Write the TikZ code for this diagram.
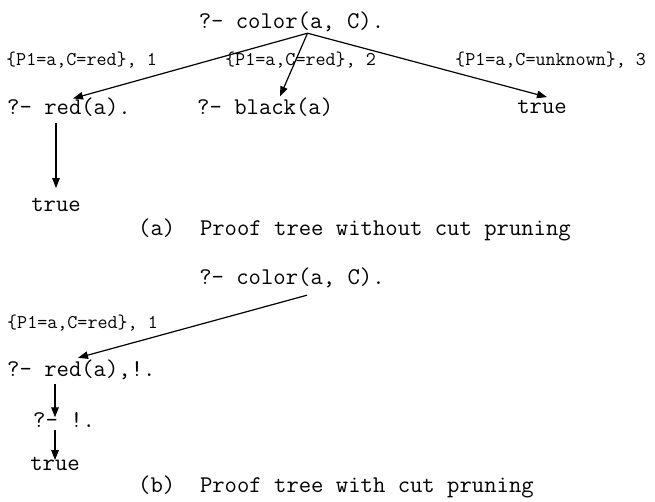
\documentclass[tikz,border=0pt]{standalone}
\usetikzlibrary{arrows.meta}

\begin{document}
\begin{tikzpicture}[
  x=1pt, y=-1pt,
  goal/.style={font=\ttfamily\fontsize{24}{28}\selectfont, inner sep=0pt},
  subst/.style={font=\ttfamily\fontsize{19.5}{22}\selectfont, inner sep=0pt, anchor=west},
  caption/.style={font=\ttfamily\fontsize{24}{28}\selectfont, inner sep=0pt, anchor=west},
  arrow/.style={-{Triangle[length=10pt,width=7.5pt]}, line width=1.2pt}
]
\useasboundingbox (0,0) rectangle (655,501);

% (a) without cut
\node[goal] (rootA) at (291.5,22) {?- color(a, C).};
\node[subst] (substA1) at (6,60) {\{P1=a,C=red\}, 1};
\node[subst] (substA2) at (225,60) {\{P1=a,C=red\}, 2};
\node[subst] (substA3) at (455,60) {\{P1=a,C=unknown\}, 3};
\node[goal, anchor=west] (redA) at (7,107) {?- red(a).};
\node[goal, anchor=west] (blackA) at (197,107) {?- black(a)};
\node[goal] (trueA) at (542,107) {true};
\node[goal] (trueA2) at (56,205) {true};
\node[caption] (capA) at (138,230) {(a)~~Proof tree without cut pruning};

\draw[arrow] ([xshift=16pt,yshift=-1pt]rootA.south) -- ([xshift=66pt,yshift=-1pt]redA.north west);
\draw[arrow] ([xshift=16pt,yshift=-1pt]rootA.south) -- ([xshift=83pt,yshift=1pt]blackA.north west);
\draw[arrow] ([xshift=16pt,yshift=-1pt]rootA.south) -- ([xshift=5pt,yshift=3pt]trueA.north);
\draw[arrow, shorten <=6pt, shorten >=10pt] (trueA2.north |- redA.south) -- (trueA2.north);

% (b) with cut
\node[goal] (rootB) at (292,278) {?- color(a, C).};
\node[subst] (substB1) at (7,323) {\{P1=a,C=red\}, 1};
\node[goal, anchor=west] (redB) at (7,370) {?- red(a),!.};
\node[goal, anchor=west] (cutB) at (33,420) {?- !.};
\node[goal] (trueB) at (55,464) {true};
\node[caption] (capB) at (138,487) {(b)~~Proof tree with cut pruning};

\draw[arrow] ([xshift=15pt,yshift=-7pt]rootB.south) -- ([xshift=71pt,yshift=2pt]redB.north west);
\draw[arrow, shorten <=4pt, shorten >=-5pt] (trueB.north |- redB.south) -- (trueB.north |- cutB.north);
\draw[arrow, shorten <=2pt, shorten >=-3pt] (trueB.north |- cutB.south) -- (trueB.north);
\end{tikzpicture}
\end{document}
